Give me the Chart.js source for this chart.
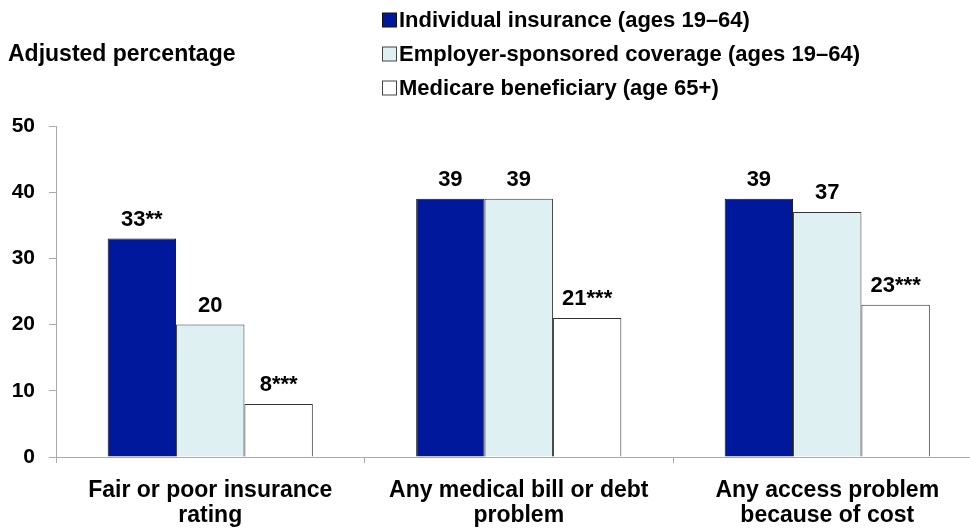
<!DOCTYPE html>
<html>
<head>
<meta charset="utf-8">
<script src="https://cdn.jsdelivr.net/npm/chart.js@4"></script>
<style>
  html, body { margin: 0; padding: 0; background: #fff; overflow: hidden; }
  #wrap { width: 985px; height: 529px; }
</style>
</head>
<body>
<div id="wrap"><canvas id="chart" width="985" height="529"></canvas></div>
<script>
const categories = [
  ['Fair or poor insurance', 'rating'],
  ['Any medical bill or debt', 'problem'],
  ['Any access problem', 'because of cost']
];
const seriesNames = [
  'Individual insurance (ages 19\u201364)',
  'Employer-sponsored coverage (ages 19\u201364)',
  'Medicare beneficiary (age 65+)'
];
const individual = [33, 39, 39];
const employer = [20, 39, 37];
const medicare = [8, 21, 23];
// significance markers shown after the value labels
const individualMarks = ['**', '', ''];
const employerMarks = ['', '', ''];
const medicareMarks = ['***', '***', '***'];
const yMin = 0;
const yMax = 50;
const yStep = 10;
const yTitle = 'Adjusted percentage';

const FONT = "'Liberation Sans', Arial, sans-serif";
const colors = ['#00189c', '#dff0f3', '#ffffff'];
const borders = ['#111111', '#333333', '#333333'];
const marks = [individualMarks, employerMarks, medicareMarks];

// value labels above bars, legend and y title
const labelsPlugin = {
  id: 'labels',
  afterDatasetsDraw(chart) {
    const ctx = chart.ctx;
    ctx.save();
    ctx.font = 'bold 22px ' + FONT;
    ctx.fillStyle = '#000';
    ctx.textAlign = 'center';
    ctx.textBaseline = 'alphabetic';
    chart.data.datasets.forEach((ds, i) => {
      chart.getDatasetMeta(i).data.forEach((bar, j) => {
        ctx.fillText(ds.data[j] + marks[i][j], bar.x, bar.y - 13);
      });
    });
    ctx.restore();
  },
  afterDraw(chart) {
    const ctx = chart.ctx;
    ctx.save();
    ctx.fillStyle = '#000';
    ctx.textBaseline = 'middle';
    ctx.textAlign = 'left';
    ctx.font = 'bold 23px ' + FONT;
    ctx.fillText(yTitle, 8, 55);
    ctx.font = 'bold 22px ' + FONT;
    const rows = [20, 54, 88];
    chart.data.datasets.forEach((ds, i) => {
      const y = rows[i];
      ctx.fillStyle = ds.backgroundColor;
      ctx.fillRect(382.5, y - 7, 14, 14);
      ctx.strokeStyle = i === 0 ? '#111' : '#444';
      ctx.lineWidth = 1;
      ctx.strokeRect(382.5, y - 7, 14, 14);
      ctx.fillStyle = '#000';
      ctx.fillText(ds.label, 399, y + 1);
    });
    ctx.restore();
  }
};

new Chart(document.getElementById('chart'), {
  type: 'bar',
  data: {
    labels: categories,
    datasets: [individual, employer, medicare].map((d, i) => ({
      label: seriesNames[i],
      data: d,
      backgroundColor: colors[i],
      borderColor: borders[i],
      borderWidth: 1,
      barPercentage: 1,
      categoryPercentage: 0.665
    }))
  },
  options: {
    responsive: false,
    animation: false,
    layout: { padding: { top: 126, right: 3.5, left: 0, bottom: 0 } },
    plugins: {
      legend: { display: false },
      tooltip: { enabled: false }
    },
    scales: {
      x: {
        afterFit(scale) { scale.height = 72; },
        grid: { drawOnChartArea: false, offset: true, tickLength: 6, color: '#aaaaaa' },
        border: { color: '#aaaaaa', width: 1 },
        ticks: {
          color: '#000',
          padding: 16,
          maxRotation: 0,
          font: { family: FONT, size: 23, weight: 'bold', lineHeight: 1.05 }
        }
      },
      y: {
        min: yMin,
        max: yMax,
        afterFit(scale) { scale.width = 56; },
        grid: { drawOnChartArea: false, tickLength: 7, color: '#aaaaaa' },
        border: { color: '#aaaaaa', width: 1 },
        ticks: {
          stepSize: yStep,
          color: '#000',
          padding: 14,
          font: { family: FONT, size: 21, weight: 'bold' }
        }
      }
    }
  },
  plugins: [labelsPlugin]
});
</script>
</body>
</html>
